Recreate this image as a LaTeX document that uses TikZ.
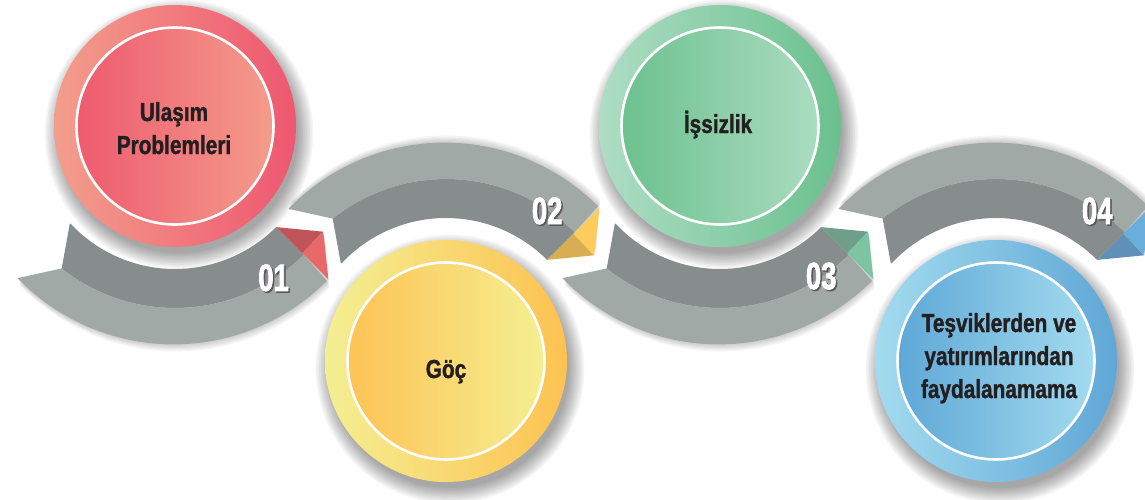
\documentclass[tikz,border=0pt]{standalone}
\usepackage{fontspec}
\newfontfamily\labelfont{Liberation Sans}[UprightFont={* Bold},FakeStretch=0.8,FakeBold=1.3]
\newfontfamily\numberfont{Liberation Sans}[UprightFont={* Bold},FakeStretch=0.72,FakeBold=2]
\definecolor{bandD}{HTML}{878D8C}
\definecolor{bandL}{HTML}{A1A9A7}
\definecolor{redD}{HTML}{C1545B}
\definecolor{redL}{HTML}{E8696A}
\definecolor{yelD}{HTML}{D9AE52}
\definecolor{yelL}{HTML}{FDCB5E}
\definecolor{grnD}{HTML}{6F9E8B}
\definecolor{grnL}{HTML}{7DC5A2}
\definecolor{bluD}{HTML}{6090B8}
\definecolor{bluL}{HTML}{6AAFDC}
\definecolor{inkc}{HTML}{231F20}
% disc gradients
\definecolor{rA}{HTML}{F39E8C}\definecolor{rB}{HTML}{EE5770}
\definecolor{rC}{HTML}{EE5A6F}\definecolor{rD}{HTML}{F49C8B}
\definecolor{yA}{HTML}{F4EF93}\definecolor{yB}{HTML}{FDC251}
\definecolor{yC}{HTML}{FDC355}\definecolor{yD}{HTML}{F5EF91}
\definecolor{gA}{HTML}{AEDDC4}\definecolor{gB}{HTML}{6BC08E}
\definecolor{gC}{HTML}{6DC18F}\definecolor{gD}{HTML}{AADCC0}
\definecolor{bA}{HTML}{A3DBEF}\definecolor{bM}{HTML}{7ACDE9}\definecolor{bB}{HTML}{5FA7D6}
\definecolor{bC}{HTML}{5FA8D7}\definecolor{bN}{HTML}{74C2E4}\definecolor{bD}{HTML}{A3DBEF}

% one ribbon in local coordinates (centre of its circle at the origin)
\newcommand\drawribbon[2]{%
  \fill[bandD] (137:144) -- (128.5:182) arc[start angle=128.5,end angle=45,radius=182]
     -- (45:143) arc[start angle=45,end angle=137,radius=143] -- cycle;
  \fill[bandL] (128.5:182) -- (136:219) arc[start angle=136,end angle=45,radius=217]
     -- (45:182) arc[start angle=45,end angle=128.5,radius=182] -- cycle;
  \fill[#1] (45:143) -- (35.5:182) -- (45:180) -- cycle;
  \fill[#2] (35.5:182) -- (45:217) -- (45:180) -- cycle;
}
\newcommand\ribbonoutline{(137:144) -- (128.5:182) -- (136:219)
  arc[start angle=136,end angle=45,radius=217] -- (35.5:182) -- (45:143)
  arc[start angle=45,end angle=137,radius=143] -- cycle}
% soft shadow on the outer side of a ribbon; #1 = centre, #2 = 1 or -1 (orientation)
\newcommand\ribbonshadow[2]{%
  \foreach \k in {1,...,6}{%
    \fill[black,opacity=0.03,shift={#1},yscale=#2,shift={(0.4*\k,1.2*\k)}] \ribbonoutline;}}
% soft shadow of a disc
\newcommand\discshadow[2]{%
  \foreach \k in {0,...,9}{%
    \fill[black,opacity=0.04] (#1+4,#2+8) circle[radius=119+1.7*\k];}}

\begin{document}
\begin{tikzpicture}[x=1pt,y=-1pt,
  disc/.style={circle,inner sep=0pt,minimum size=242pt},
  core/.style={circle,inner sep=0pt,minimum size=197pt,draw=white,line width=2.6pt},
  label/.style={font=\labelfont\fontsize{26}{30}\selectfont,text=inkc,anchor=base,inner sep=0pt},
  num/.style={font=\numberfont\fontsize{38}{40}\selectfont,text=white,inner sep=0pt},
  numshade/.style={num,text=black!65}]
\useasboundingbox (0,0) rectangle (1145,500);
\clip (0,0) rectangle (1145,500);
\fill[white] (0,0) rectangle (1145,500);

% ribbon shadows
\ribbonshadow{(175,126)}{1}
\ribbonshadow{(446,361)}{-1}
\ribbonshadow{(720,126)}{1}
\ribbonshadow{(996,361)}{-1}

% ribbons
\begin{scope}[shift={(175,126)}]\drawribbon{redD}{redL}\end{scope}
\begin{scope}[shift={(446,361)},yscale=-1]\drawribbon{yelD}{yelL}\end{scope}
\begin{scope}[shift={(720,126)}]\drawribbon{grnD}{grnL}\end{scope}
\begin{scope}[shift={(996,361)},yscale=-1]\drawribbon{bluD}{bluL}\end{scope}

% disc shadows
\discshadow{175}{126}
\discshadow{446}{361}
\discshadow{720}{126}
\discshadow{996}{361}

% discs
\node[disc,left color=rA,right color=rB] (c1) at (175,126) {};
\node[core,left color=rC,right color=rD] (c1in) at (175,126) {};
\node[disc,left color=yA,right color=yB] (c2) at (446,361) {};
\node[core,left color=yC,right color=yD] (c2in) at (446,361) {};
\node[disc,left color=gA,right color=gB] (c3) at (720,126) {};
\node[core,left color=gC,right color=gD] (c3in) at (720,126) {};
\node[disc,left color=bA,middle color=bM,right color=bB] (c4) at (996,361) {};
\node[core,left color=bC,middle color=bN,right color=bD] (c4in) at (996,361) {};

% captions
\node[label] (t1a) at (174,121) {Ulaşım};
\node[label] (t1b) at (174,154) {Problemleri};
\node[label] (t2) at (446,378) {Göç};
\node[label] (t3) at (718,133) {İşsizlik};
\node[label] (t4a) at (999,332) {Teşviklerden ve};
\node[label] (t4b) at (999,365) {yatırımlarından};
\node[label] (t4c) at (999,398) {faydalanamama};

% step numbers
\path (c1.center) ++(57:181) node[numshade,xshift=1.5pt,yshift=-1.5pt] (n1s) {01} node[num] (n1) {01};
\path (c2.center) ++(-56:181) node[numshade,xshift=1.5pt,yshift=-1.5pt] (n2s) {02} node[num] (n2) {02};
\path (c3.center) ++(56:181) node[numshade,xshift=1.5pt,yshift=-1.5pt] (n3s) {03} node[num] (n3) {03};
\path (c4.center) ++(-56:181) node[numshade,xshift=1.5pt,yshift=-1.5pt] (n4s) {04} node[num] (n4) {04};
\end{tikzpicture}
\end{document}
